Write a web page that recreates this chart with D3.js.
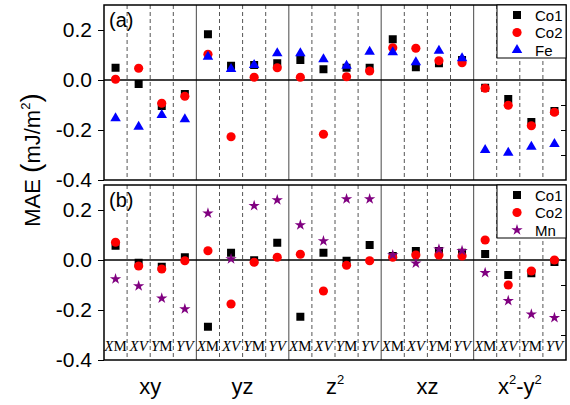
<!DOCTYPE html>
<html><head><meta charset="utf-8">
<script src="https://cdn.jsdelivr.net/npm/d3@7"></script>
<style>body{margin:0;background:#fff}svg{display:block}</style>
</head><body>
<svg id="c" width="570" height="405"></svg>
<script>
const groups = ["xy","yz","z2","xz","x2-y2"];
const subs = ["XM","XV","YM","YV"];
const yTicks = [0.2, 0.0, -0.2, -0.4];
const minorTicks = [0.2, 0.1, 0.0, -0.1, -0.2, -0.3];
// panel (a)
const aCo1 = [0.049,-0.016,-0.104,-0.056, 0.183,0.057,0.060,0.067, 0.080,0.043,0.049,0.049, 0.163,0.051,0.067,0.080, -0.031,-0.076,-0.168,-0.124];
const aCo2 = [0.003,0.047,-0.093,-0.065, 0.103,-0.227,0.011,0.049, 0.011,-0.217,0.013,0.036, 0.129,0.127,0.077,0.069, -0.033,-0.101,-0.183,-0.129];
const aFe  = [-0.153,-0.187,-0.140,-0.157, 0.093,0.044,0.060,0.107, 0.107,0.083,0.057,0.113, 0.111,0.071,0.117,0.087, -0.280,-0.291,-0.267,-0.256];
// panel (b)
const bCo1 = [0.057,-0.011,-0.027,0.011, -0.267,0.029,-0.001,0.069, -0.227,0.029,-0.003,0.060, 0.016,0.036,0.036,0.029, 0.024,-0.060,-0.053,-0.008];
const bCo2 = [0.071,-0.024,-0.036,-0.003, 0.037,-0.176,-0.009,0.011, 0.023,-0.124,-0.021,-0.003, 0.011,0.020,0.020,0.016, 0.080,-0.100,-0.044,0.000];
const bMn  = [-0.076,-0.104,-0.153,-0.196, 0.187,0.004,0.217,0.240, 0.140,0.076,0.244,0.244, 0.020,-0.013,0.043,0.037, -0.051,-0.163,-0.217,-0.231];

const cats = [];
groups.forEach((g,gi)=>subs.forEach(s=>cats.push(gi+"_"+s)));

const svg = d3.select("#c");
const L = 104, R = 566;
const x = d3.scaleBand().domain(cats).range([L,R]).padding(0);
const xg = d3.scaleBand().domain(groups).range([L,R]).padding(0);

const panels = [
  {top:5, bottom:180, label:"(a)", series:[
     {name:"Co1", vals:aCo1, sym:d3.symbolSquare, size:64, color:"#000000"},
     {name:"Co2", vals:aCo2, sym:d3.symbolCircle, size:66, color:"#ff0000"},
     {name:"Fe",  vals:aFe,  sym:d3.symbolTriangle, size:48, color:"#0000ff"}], subLabels:false},
  {top:185, bottom:360, label:"(b)", series:[
     {name:"Co1", vals:bCo1, sym:d3.symbolSquare, size:64, color:"#000000"},
     {name:"Co2", vals:bCo2, sym:d3.symbolCircle, size:66, color:"#ff0000"},
     {name:"Mn",  vals:bMn,  sym:d3.symbolStar, size:40, color:"#800080"}], subLabels:true}
];

panels.forEach(p=>{
  const y = d3.scaleLinear().domain([-0.4,0.3]).range([p.bottom,p.top]);
  const g = svg.append("g");
  cats.forEach((c,i)=>{
    if(i===0) return;
    const xx = x(c);
    const solid = i%4===0;
    g.append("line").attr("x1",xx).attr("x2",xx).attr("y1",p.top).attr("y2",p.bottom)
      .attr("stroke", solid? "#666":"#555").attr("stroke-width", solid?1.2:1)
      .attr("stroke-dasharray", solid? null : "4,3");
  });
  g.append("line").attr("x1",L).attr("x2",R).attr("y1",y(0)).attr("y2",y(0))
    .attr("stroke","#000").attr("stroke-width",1.3);
  const ax = d3.axisLeft(y).tickValues(yTicks).tickSize(6).tickPadding(6).tickFormat(d3.format(".1f"));
  const ga = g.append("g").attr("transform",`translate(${L},0)`).call(ax);
  ga.select(".domain").remove();
  ga.selectAll("text").attr("font-family","Arial, 'Liberation Sans', sans-serif").attr("font-size",21).attr("fill","#000")
    .text(d=>d3.format(".1f")(d).replace("−","-"));
  const ar = d3.axisRight(y).tickValues(minorTicks).tickSize(-5).tickFormat("");
  const gr = g.append("g").attr("transform",`translate(${R},0)`).call(ar);
  gr.select(".domain").remove();
  g.append("rect").attr("x",L).attr("y",p.top).attr("width",R-L).attr("height",p.bottom-p.top)
    .attr("fill","none").attr("stroke","#000").attr("stroke-width",1.5);
  p.series.forEach(s=>{
    g.append("g").selectAll("path").data(s.vals).join("path")
      .attr("d", d3.symbol().type(s.sym).size(s.size))
      .attr("transform",(d,i)=>`translate(${x(cats[i])+x.bandwidth()/2},${y(d)})`)
      .attr("fill",s.color);
  });
  g.append("text").attr("x",109).attr("y",p.top+22).attr("font-family","Arial, 'Liberation Sans', sans-serif")
    .attr("font-size",20).text(p.label);
  const lx = 497, ly = p.top, lw = R-lx, lh = 53;
  g.append("rect").attr("x",lx).attr("y",ly).attr("width",lw).attr("height",lh)
    .attr("fill","#fff").attr("stroke","#000").attr("stroke-width",1);
  p.series.forEach((s,i)=>{
    const cy = ly + 10 + i*17.5;
    g.append("path").attr("d",d3.symbol().type(s.sym).size(s.size)).attr("transform",`translate(517,${cy})`).attr("fill",s.color);
    g.append("text").attr("x",535).attr("y",cy+5.5).attr("font-family","Arial, 'Liberation Sans', sans-serif")
      .attr("font-size",15).text(s.name);
  });
  if(p.subLabels){
    cats.forEach((c,i)=>{
      const s = subs[i%4];
      const t = g.append("text").attr("x",x(c)+x.bandwidth()/2).attr("y",351).attr("text-anchor","middle")
        .attr("font-family","'Liberation Serif','Times New Roman',serif").attr("font-size",15);
      t.append("tspan").attr("font-style","italic").text(s[0]);
      t.append("tspan").attr("font-style", s[1]==="M"?"normal":"italic").text(s[1]);
    });
  }
});

const gl = svg.append("g").attr("font-family","Arial, 'Liberation Sans', sans-serif").attr("font-size",22);
groups.forEach(gname=>{
  const t = gl.append("text").attr("x",xg(gname)+xg.bandwidth()/2).attr("y",394).attr("text-anchor","middle");
  if(gname==="z2"){
    t.append("tspan").text("z");
    t.append("tspan").attr("font-size",13).attr("dy",-10).text("2");
  } else if(gname==="x2-y2"){
    t.append("tspan").text("x");
    t.append("tspan").attr("font-size",13).attr("dy",-10).text("2");
    t.append("tspan").attr("dy",10).text("-y");
    t.append("tspan").attr("font-size",13).attr("dy",-10).text("2");
  } else t.text(gname);
});

const yl = svg.append("text").attr("transform","translate(40,160) rotate(-90)").attr("text-anchor","middle")
  .attr("font-family","Arial, 'Liberation Sans', sans-serif").attr("font-size",22);
yl.append("tspan").text("MAE ");
yl.append("tspan").attr("font-size",28).text("(");
yl.append("tspan").text("mJ/m");
yl.append("tspan").attr("font-size",13).attr("dy",-10).text("2");
yl.append("tspan").attr("font-size",28).attr("dy",10).text(")");
</script>
</body></html>
